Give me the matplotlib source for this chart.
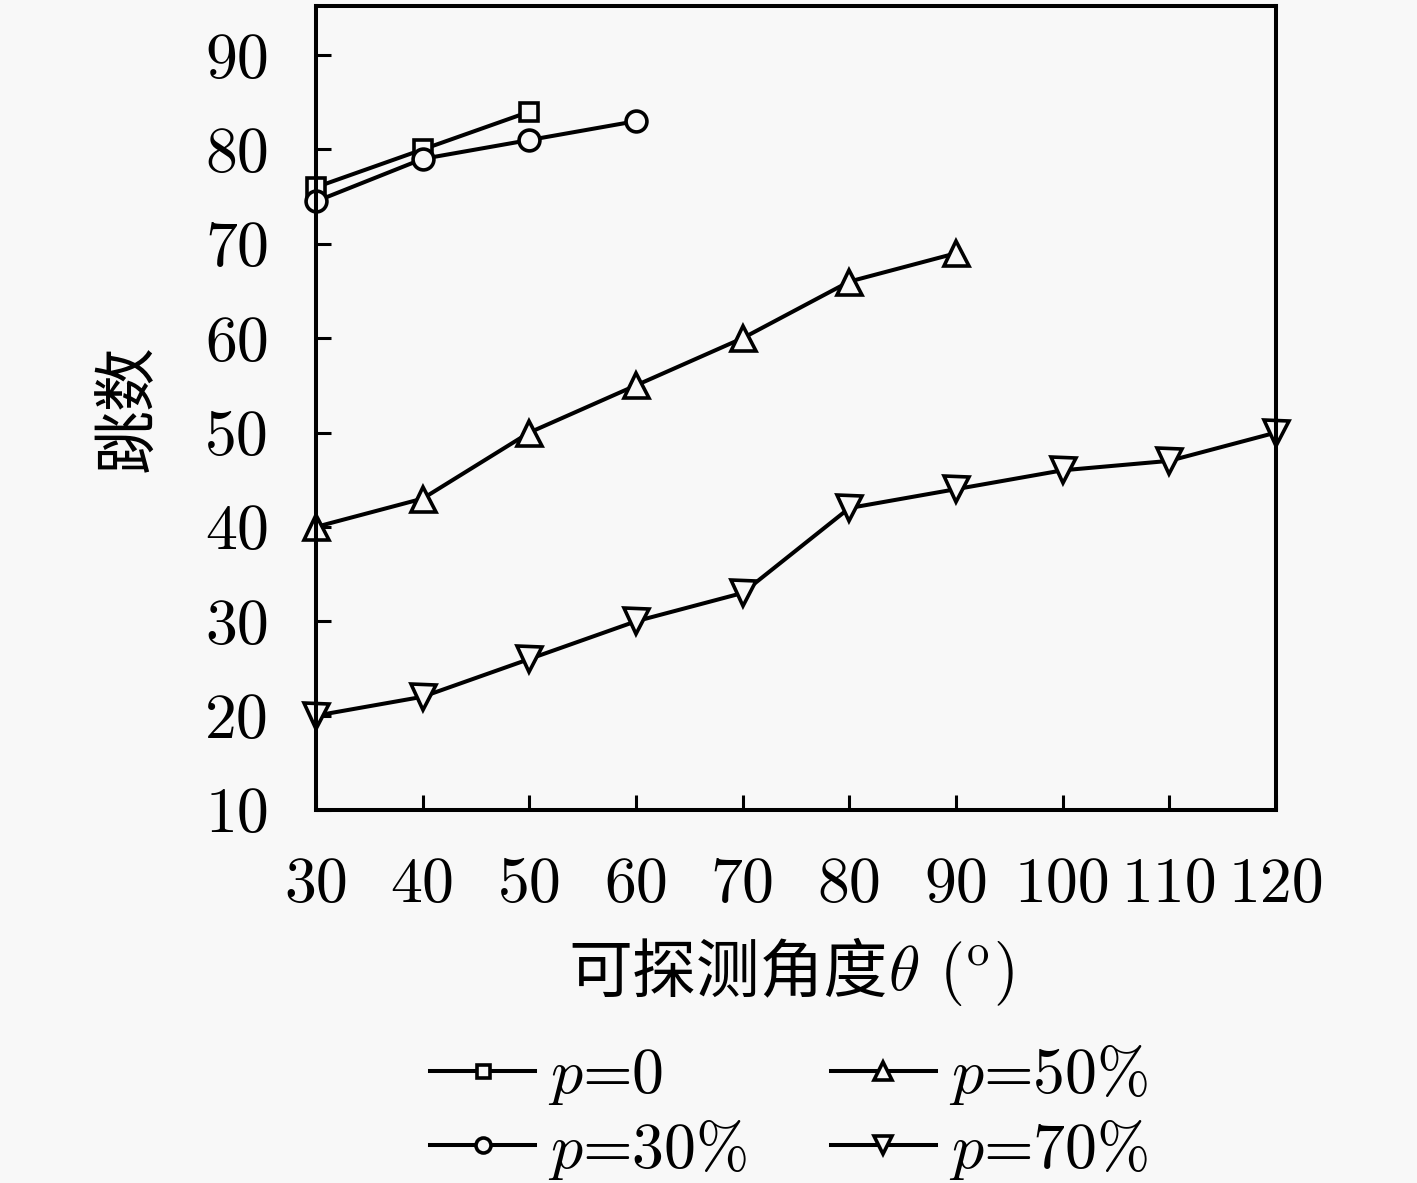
import matplotlib
matplotlib.use("Agg")
import matplotlib.pyplot as plt

# ---- data ----
angles = [30, 40, 50, 60, 70, 80, 90, 100, 110, 120]
x_p0 = [30, 40, 50]
y_p0 = [76, 80, 84]
x_p30 = [30, 40, 50, 60]
y_p30 = [74.5, 79, 81, 83]
x_p50 = [30, 40, 50, 60, 70, 80, 90]
y_p50 = [40, 43, 50, 55, 60, 66, 69]
x_p70 = [30, 40, 50, 60, 70, 80, 90, 100, 110, 120]
y_p70 = [20, 22, 26, 30, 33, 42, 44, 46, 47, 50]
yticks = [10, 20, 30, 40, 50, 60, 70, 80, 90]
labels = [r"$p$=0", r"$p$=30%", r"$p$=50%", r"$p$=70%"]
xlabel_cn = '可探测角度'
xlabel_math = r'$\theta$ $(^{\mathrm{o}})$'
ylabel_cn = '跳数'

plt.rcParams['font.family'] = ['cmr10', 'Noto Sans CJK SC', 'DejaVu Sans']
plt.rcParams['mathtext.fontset'] = 'cm'
plt.rcParams['axes.unicode_minus'] = False

BG = '#f8f8f8'
fig = plt.figure(figsize=(14.17, 11.83), dpi=100, facecolor=BG)
ax = fig.add_axes([0.223, 0.3153, 0.6775, 0.6796])
ax.set_facecolor(BG)

style = dict(color='black', lw=2.9, mfc=BG, mec='black', mew=2.6, clip_on=False)
h0, = ax.plot(x_p0, y_p0, marker='s', ms=13, label=labels[0], **style)
h30, = ax.plot(x_p30, y_p30, marker='o', ms=15, label=labels[1], **style)
h50, = ax.plot(x_p50, y_p50, marker='^', ms=18, label=labels[2], **style)
h70, = ax.plot(x_p70, y_p70, marker='v', ms=18, label=labels[3], **style)

ax.set_xlim(30, 120)
ax.set_ylim(10, 95.2)
ax.set_xticks(angles)
ax.set_xticklabels([str(a) for a in angles])
ax.set_yticks(yticks)
ax.set_yticklabels([str(v) for v in yticks])

for s in ax.spines.values():
    s.set_linewidth(2.9)
ax.tick_params(direction='in', length=11, width=2.2, labelsize=46,
               top=False, right=False)
ax.tick_params(axis='y', pad=34)
ax.tick_params(axis='x', pad=34)

# x label: Chinese part + math part side by side
xl_y = 1 - 973 / 1183
xl_x = 888 / 1417
fig.text(xl_x, xl_y, xlabel_cn, fontsize=46, family=['Noto Sans CJK SC'],
         ha='right', va='center')
fig.text(xl_x, xl_y, xlabel_math, fontsize=46, ha='left', va='center')

ax.set_ylabel(ylabel_cn, fontsize=46, family=['Noto Sans CJK SC'])
ax.yaxis.set_label_coords(-0.16, 0.5)

leg = fig.legend(handles=[h0, h30, h50, h70], ncol=2, frameon=False,
                 loc='upper left', bbox_to_anchor=(0.3035, 0.118),
                 fontsize=46, handlelength=1.65, handletextpad=0.2,
                 columnspacing=1.3, labelspacing=0.16, borderpad=0,
                 borderaxespad=0, markerscale=0.72)

fig.savefig('out.png', dpi=100, facecolor=BG)
